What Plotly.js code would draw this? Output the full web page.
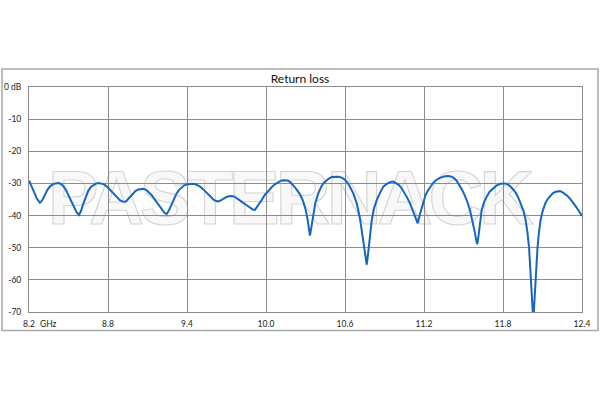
<!DOCTYPE html>
<html>
<head>
<meta charset="utf-8">
<script src="https://cdn.plot.ly/plotly-3.0.1.min.js"></script>
<style>
html,body{margin:0;padding:0;background:#fff;}
#chart{width:600px;height:400px;}
</style>
</head>
<body>
<div id="chart"></div>
<script>
// Frequency (GHz) and return loss (dB)
const freqGHz = [
8.20,8.22,8.24,8.26,8.283,8.30,8.32,8.34,8.36,8.38,8.40,8.423,8.44,8.46,8.48,8.50,8.52,8.54,8.56,8.58,
8.595,8.61,8.63,8.65,8.67,8.69,8.71,8.73,8.752,8.77,8.79,8.81,8.83,8.85,8.87,8.89,8.91,8.934,8.95,8.97,
8.99,9.01,9.03,9.05,9.068,9.09,9.11,9.13,9.15,9.17,9.19,9.21,9.23,9.246,9.26,9.28,9.30,9.32,9.34,9.36,
9.38,9.40,9.42,9.44,9.461,9.48,9.50,9.52,9.54,9.56,9.58,9.60,9.62,9.638,9.66,9.68,9.70,9.72,9.739,9.76,
9.78,9.80,9.82,9.84,9.86,9.88,9.90,9.916,9.93,9.954,9.97,9.99,10.01,10.03,10.05,10.07,10.09,10.11,10.131,10.15,
10.165,10.182,10.20,10.22,10.24,10.258,10.28,10.30,10.315,10.325,10.334,10.345,10.359,10.375,10.397,10.42,10.44,10.461,10.48,10.50,
10.52,10.549,10.57,10.588,10.61,10.63,10.663,10.69,10.714,10.73,10.745,10.755,10.765,10.775,10.787,10.803,10.82,10.841,10.865,10.891,
10.915,10.942,10.967,10.99,11.01,11.03,11.05,11.068,11.094,11.119,11.14,11.152,11.17,11.195,11.21,11.23,11.25,11.27,11.29,11.31,
11.33,11.36,11.385,11.41,11.43,11.45,11.47,11.49,11.51,11.53,11.55,11.57,11.585,11.597,11.605,11.615,11.625,11.638,11.655,11.676,
11.70,11.726,11.75,11.78,11.815,11.835,11.855,11.875,11.895,11.915,11.935,11.955,11.97,11.985,11.998,12.008,12.018,12.026,12.034,12.042,
12.052,12.062,12.072,12.085,12.10,12.12,12.14,12.16,12.18,12.20,12.233,12.25,12.27,12.29,12.31,12.33,12.35,12.37,12.385,12.40
];
const returnLossDb = [
-29.1,-30.8,-32.8,-34.8,-36.0,-35.3,-33.6,-32.0,-30.9,-30.3,-30.0,-29.9,-30.1,-30.8,-32.0,-33.6,-35.4,-37.2,-38.9,-39.8,
-38.6,-36.6,-34.2,-32.3,-31.1,-30.4,-30.0,-29.9,-30.0,-30.3,-30.9,-31.8,-32.8,-33.7,-34.6,-35.2,-35.6,-35.7,-35.0,-34.0,
-33.0,-32.3,-31.9,-31.7,-31.7,-32.0,-32.7,-33.6,-34.7,-35.9,-37.1,-38.3,-39.2,-39.5,-38.6,-36.8,-34.9,-33.2,-32.0,-31.2,
-30.6,-30.3,-30.1,-30.1,-30.2,-30.5,-31.0,-31.7,-32.5,-33.4,-34.3,-35.0,-35.5,-35.6,-35.2,-34.7,-34.2,-34.0,-33.9,-34.1,
-34.6,-35.2,-35.8,-36.4,-37.0,-37.6,-38.1,-38.2,-37.4,-36.2,-35.0,-33.6,-32.6,-31.7,-30.9,-30.2,-29.6,-29.2,-29.0,-29.0,
-29.1,-29.5,-30.2,-31.2,-32.3,-33.4,-35.3,-38.0,-41.0,-43.8,-46.2,-43.5,-39.5,-36.0,-33.1,-31.0,-29.8,-28.9,-28.4,-28.0,
-27.9,-27.9,-28.1,-28.5,-29.3,-30.5,-33.1,-36.3,-41.0,-45.5,-50.0,-53.5,-55.3,-52.0,-46.5,-41.4,-37.8,-35.2,-33.0,-31.0,
-30.2,-29.6,-29.4,-29.9,-30.5,-31.5,-32.7,-34.1,-36.2,-38.8,-41.2,-42.4,-39.5,-35.6,-33.8,-32.2,-30.8,-29.8,-29.0,-28.5,
-28.1,-27.8,-27.7,-27.9,-28.4,-29.3,-30.5,-32.0,-33.8,-35.8,-38.5,-41.8,-45.0,-47.8,-48.9,-46.0,-42.0,-38.3,-36.0,-34.1,
-32.5,-31.5,-30.7,-30.1,-30.0,-30.3,-30.9,-31.8,-32.8,-34.3,-36.2,-38.5,-41.0,-45.0,-50.0,-56.0,-63.0,-70.0,-70.0,-63.0,
-56.0,-50.0,-45.5,-41.5,-38.8,-36.3,-34.8,-33.8,-33.0,-32.6,-32.4,-32.7,-33.2,-33.9,-34.8,-35.8,-37.0,-38.2,-39.2,-40.1
];
const xTickVals = [8.2,8.8,9.4,10.0,10.6,11.2,11.8,12.4];
const xTickText = ["8.2","8.8","9.4","10.0","10.6","11.2","11.8","12.4"];
const yTickVals = [0,-10,-20,-30,-40,-50,-60,-70];
const yTickText = ["0 dB","-10","-20","-30","-40","-50","-60","-70"];
const chartTitle = "Return loss";
const unitLabel = "GHz";
const watermark = "PASTERNACK";

const FONT = "Lato, 'Open Sans', 'Liberation Sans', sans-serif";
const GRID = "#8c8c8c";

const trace = {
  x: freqGHz, y: returnLossDb, type: "scatter", mode: "lines",
  line: {color: "#1466c0", width: 2},
  hoverinfo: "skip", showlegend: false
};

const layout = {
  width: 600, height: 400,
  margin: {l: 29, r: 18, t: 87, b: 88, pad: 0},
  paper_bgcolor: "#ffffff", plot_bgcolor: "#ffffff",
  font: {family: FONT, size: 8.5, color: "#222"},
  title: {text: chartTitle, x: 0.5, xanchor: "center", y: 1 - 79/400, yanchor: "middle",
          yref: "container", font: {family: FONT, size: 12, color: "#111"}},
  xaxis: {range: [8.2, 12.4], tickvals: xTickVals, ticktext: xTickText,
          showgrid: true, gridcolor: GRID, gridwidth: 1, zeroline: false,
          showline: true, linecolor: GRID, linewidth: 1, mirror: true,
          ticks: "", ticklabelstandoff: 4, tickfont: {family: FONT, size: 8.5, color: "#222"}},
  yaxis: {range: [-70, 0], tickvals: yTickVals, ticktext: yTickText,
          showgrid: true, gridcolor: GRID, gridwidth: 1, zeroline: false,
          showline: true, linecolor: GRID, linewidth: 1, mirror: true,
          ticks: "", ticklabelstandoff: 5, tickfont: {family: FONT, size: 8.5, color: "#222"}},
  shapes: [{type: "rect", xref: "paper", yref: "paper",
            x0: (2-29)/553, x1: (598-29)/553, y0: (312-330.5)/225, y1: (312-69)/225,
            line: {color: "#a8a8a8", width: 1.5}, fillcolor: "rgba(0,0,0,0)", layer: "below"}],
  annotations: [
    {text: unitLabel, xref: "paper", yref: "paper", x: (48-29)/553, y: (312-324)/225,
     xanchor: "center", yanchor: "middle", showarrow: false,
     font: {family: FONT, size: 8.5, color: "#222"}},
    {text: watermark, xref: "paper", yref: "paper", x: (289-29)/553, y: (312-197)/225,
     xanchor: "center", yanchor: "middle", showarrow: false,
     font: {family: "'Liberation Sans', Arial, sans-serif", size: 76, weight: 700, color: "#f7f7f7"}}
  ]
};

Plotly.newPlot("chart", [trace], layout, {staticPlot: true, displayModeBar: false}).then(function(gd){
  gd.querySelectorAll(".annotation-text").forEach(function(t){
    if (t.textContent === watermark) {
      t.style.stroke = "#d4d4d4";
      t.style.strokeWidth = "1.1px";
      t.style.fill = "#f8f8f8";
      t.style.letterSpacing = "-4px";
      // place the watermark beneath grid and curve
      const g = t.closest(".annotation");
      const mainSvg = gd.querySelector(".main-svg");
      const bg = mainSvg.querySelector(".bglayer");
      if (g && bg) bg.after(g);
    }
  });
});
</script>
</body>
</html>
